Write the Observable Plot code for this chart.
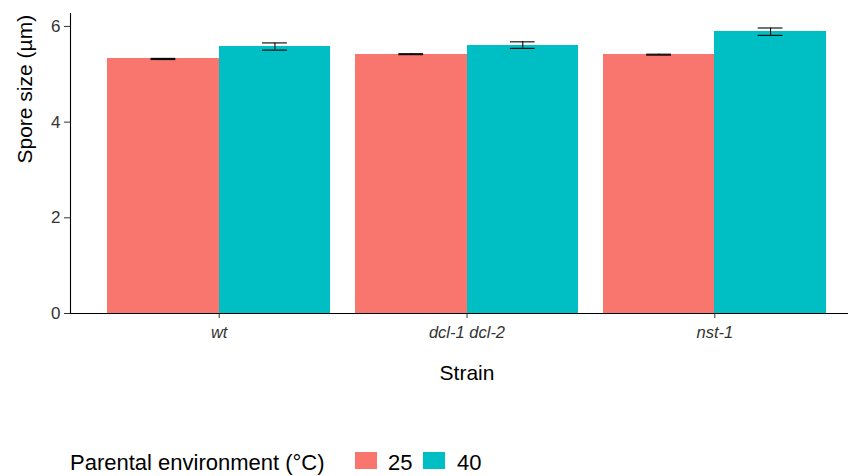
<!DOCTYPE html>
<html>
<head>
<meta charset="utf-8">
<script src="https://cdn.jsdelivr.net/npm/d3@7"></script>
<script src="https://cdn.jsdelivr.net/npm/@observablehq/plot@0.6"></script>
<style>
  body { margin: 0; background: #fff; font-family: "Liberation Sans", Arial, sans-serif; }
  #chart { width: 848px; height: 476px; position: relative; overflow: hidden; }
  #legend { position: absolute; left: 0; top: 400px; width: 848px; height: 76px; font-size: 22px; color: #000; }
  #legend span { position: absolute; white-space: nowrap; line-height: 1; }
  #legend .sw { width: 22px; height: 17px; }
</style>
</head>
<body>
<div id="chart"></div>
<script>
const strains = ["wt", "dcl-1 dcl-2", "nst-1"];
const temps = ["25", "40"];
const mean25 = [5.32, 5.42, 5.41];
const err25 = [0.012, 0.01, 0.01];
const mean40 = [5.58, 5.61, 5.89];
const err40 = [0.075, 0.068, 0.077];
const colors = ["#F8766D", "#00BFC4"];
const yTicks = [0, 2, 4, 6];

const data = [];
strains.forEach((s, i) => {
  data.push({strain: s, idx: i + 1, temp: temps[0], k: 0, mean: mean25[i], lo: mean25[i] - err25[i], hi: mean25[i] + err25[i]});
  data.push({strain: s, idx: i + 1, temp: temps[1], k: 1, mean: mean40[i], lo: mean40[i] - err40[i], hi: mean40[i] + err40[i]});
});

// ggplot-like dodge: total width 0.9 per group, two bars of 0.45 each
const W = 0.9, half = W / 2;
const left = d => d.idx - half + d.k * half;
const center = d => left(d) + half / 2;
const capW = 0.05;

const font = "'Liberation Sans', Arial, sans-serif";
const plot = Plot.plot({
  width: 848,
  height: 400,
  marginLeft: 70,
  marginRight: -15,
  marginTop: 13,
  marginBottom: 87,
  style: {fontFamily: font, background: "#fff", overflow: "hidden"},
  x: {type: "linear", domain: [0.4, 3.6]},
  y: {domain: [0, 6.27]},
  color: {domain: temps, range: colors},
  marks: [
    Plot.rectY(data, {x1: left, x2: d => left(d) + half, y1: 0, y2: "mean", fill: "temp", shapeRendering: "crispEdges"}),
    Plot.ruleX(data, {x: center, y1: "lo", y2: "hi", stroke: "#000", strokeWidth: 1.1}),
    Plot.ruleY(data, {x1: d => center(d) - capW, x2: d => center(d) + capW, y: "lo", stroke: "#000", strokeWidth: 1.1}),
    Plot.ruleY(data, {x1: d => center(d) - capW, x2: d => center(d) + capW, y: "hi", stroke: "#000", strokeWidth: 1.1}),
    Plot.ruleY([0], {stroke: "#000", strokeWidth: 1.1}),
    Plot.ruleX([0.4], {stroke: "#000", strokeWidth: 1.1}),
    Plot.axisY({ticks: yTicks, tickFormat: d3.format("d"), tickSize: 6, tickPadding: 4, fontSize: 17, color: "#333", stroke: "#333", label: null}),
    Plot.axisX({ticks: [1, 2, 3], tickFormat: i => strains[i - 1], tickSize: 5, tickPadding: 8, fontSize: 16.5, fontStyle: "italic", color: "#333", stroke: "#333", label: null}),
    Plot.text(["Strain"], {frameAnchor: "bottom", dy: 66, fontSize: 21, fill: "#000"}),
    Plot.text(["Spore size (µm)"], {frameAnchor: "left", dx: -45, rotate: -90, fontSize: 21, fill: "#000"})
  ]
});
const chart = document.getElementById("chart");
chart.appendChild(plot);

const legend = document.createElement("div");
legend.id = "legend";
const items = [
  {text: "Parental environment (°C)", left: 70, top: 52},
  {sw: colors[0], left: 355, top: 52},
  {text: temps[0], left: 388, top: 52},
  {sw: colors[1], left: 423, top: 52},
  {text: temps[1], left: 457, top: 52}
];
items.forEach(it => {
  const el = document.createElement("span");
  el.style.left = it.left + "px";
  if (it.sw) {
    el.className = "sw";
    el.style.top = it.top + "px";
    el.style.background = it.sw;
  } else {
    el.textContent = it.text;
    el.style.top = it.top + "px";
  }
  legend.appendChild(el);
});
chart.appendChild(legend);
</script>
</body>
</html>
